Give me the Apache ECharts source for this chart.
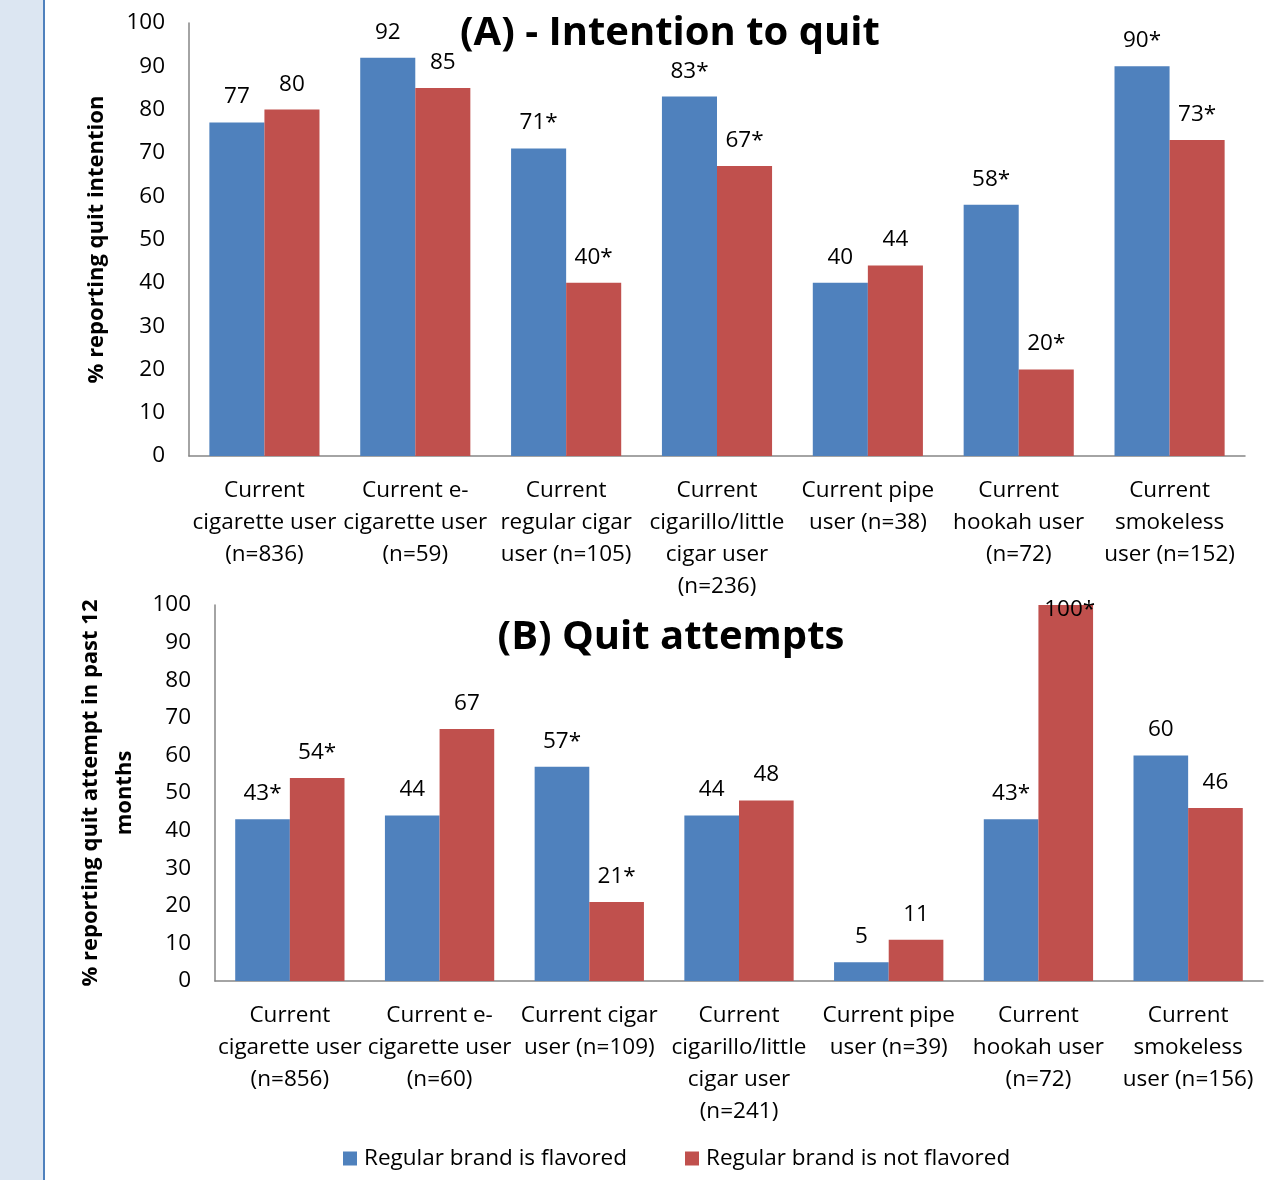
<!DOCTYPE html>
<html><head><meta charset="utf-8">
<script src="https://cdn.jsdelivr.net/npm/echarts@6/dist/echarts.min.js"></script>
<style>html,body{margin:0;padding:0;background:#fff}#c{width:1275px;height:1180px}</style>
</head><body><div id="c"></div>
<script>
const seriesNames = ['Regular brand is flavored', 'Regular brand is not flavored'];
const categoriesA = ['Current\ncigarette user\n(n=836)', 'Current e-\ncigarette user\n(n=59)', 'Current\nregular cigar\nuser (n=105)', 'Current\ncigarillo/little\ncigar user\n(n=236)', 'Current pipe\nuser (n=38)', 'Current\nhookah user\n(n=72)', 'Current\nsmokeless\nuser (n=152)'];
const flavoredA = [77, 92, 71, 83, 40, 58, 90];
const notFlavoredA = [80, 85, 40, 67, 44, 20, 73];
const flavoredALabels = ['77', '92', '71*', '83*', '40', '58*', '90*'];
const notFlavoredALabels = ['80', '85', '40*', '67*', '44', '20*', '73*'];
const categoriesB = ['Current\ncigarette user\n(n=856)', 'Current e-\ncigarette user\n(n=60)', 'Current cigar\nuser (n=109)', 'Current\ncigarillo/little\ncigar user\n(n=241)', 'Current pipe\nuser (n=39)', 'Current\nhookah user\n(n=72)', 'Current\nsmokeless\nuser (n=156)'];
const flavoredB = [43, 44, 57, 44, 5, 43, 60];
const notFlavoredB = [54, 67, 21, 48, 11, 100, 46];
const flavoredBLabels = ['43*', '44', '57*', '44', '5', '43*', '60'];
const notFlavoredBLabels = ['54*', '67', '21*', '48', '11', '100*', '46'];
const yTicks = [0, 10, 20, 30, 40, 50, 60, 70, 80, 90, 100];

const FONT = 'Open Sans';
const FS = 22.5;
const BLUE = '#4f81bd', RED = '#c0504d';

function mkData(vals, labels) {
  return vals.map((v, i) => {
    const d = { value: v, label: { formatter: labels[i] } };
    if (v >= 100) d.label = { formatter: labels[i], position: 'insideTop', distance: 0, offset: [4, -7] };
    return d;
  });
}
const labelStyle = { show: true, position: 'top', distance: 14, color: '#000', fontFamily: FONT, fontSize: FS };
function xAx(idx, cats) {
  return {
    type: 'category', gridIndex: idx, data: cats,
    axisLine: { lineStyle: { color: '#868686', width: 1.5 } },
    axisTick: { show: false },
    axisLabel: { color: '#000', fontFamily: FONT, fontSize: FS, lineHeight: 32, margin: 19, interval: 0 }
  };
}
function yAx(idx, name, gap) {
  return {
    type: 'value', gridIndex: idx, min: yTicks[0], max: yTicks[yTicks.length - 1], interval: 10,
    name: name, nameLocation: 'middle', nameGap: gap,
    nameTextStyle: { color: '#000', fontFamily: FONT, fontSize: 22, fontWeight: 'bold', lineHeight: 34 },
    axisLine: { show: true, lineStyle: { color: '#868686', width: 1.5 } },
    axisTick: { show: false },
    splitLine: { show: false },
    axisLabel: { color: '#000', fontFamily: FONT, fontSize: FS, margin: 24 }
  };
}
const chart = echarts.init(document.getElementById('c'), null, { renderer: 'canvas' });
chart.setOption({
  backgroundColor: '#fff',
  animation: false,
  textStyle: { fontFamily: FONT },
  graphic: [
    { type: 'rect', shape: { x: 0, y: 0, width: 43, height: 1180 }, style: { fill: '#dce6f2' } },
    { type: 'rect', shape: { x: 43, y: 0, width: 2, height: 1180 }, style: { fill: '#4f81bd' } }
  ],
  title: [
    { text: '(A) - Intention to quit', left: 665, top: 9, textAlign: 'center', textStyle: { fontFamily: FONT, fontSize: 40, fontWeight: 'bold', color: '#000' } },
    { text: '(B) Quit attempts', left: 666, top: 613, textAlign: 'center', textStyle: { fontFamily: FONT, fontSize: 40, fontWeight: 'bold', color: '#000' } }
  ],
  legend: {
    data: seriesNames, bottom: 5, left: 338, itemWidth: 14, itemHeight: 14, itemGap: 58,
    icon: 'rect',
    textStyle: { fontFamily: FONT, fontSize: FS, color: '#000', padding: [0, 0, 0, 2] }
  },
  grid: [
    { left: 189, right: 30, top: 23, height: 433 },
    { left: 215, right: 12, top: 605, height: 376 }
  ],
  xAxis: [xAx(0, categoriesA), xAx(1, categoriesB)],
  yAxis: [yAx(0, '% reporting quit intention', 75), yAx(1, '% reporting quit attempt in past 12\nmonths', 69)],
  series: [
    { name: seriesNames[0], type: 'bar', xAxisIndex: 0, yAxisIndex: 0, data: mkData(flavoredA, flavoredALabels), itemStyle: { color: BLUE }, barGap: '0%', barCategoryGap: '27%', label: labelStyle },
    { name: seriesNames[1], type: 'bar', xAxisIndex: 0, yAxisIndex: 0, data: mkData(notFlavoredA, notFlavoredALabels), itemStyle: { color: RED }, barGap: '0%', barCategoryGap: '27%', label: labelStyle },
    { name: seriesNames[0], type: 'bar', xAxisIndex: 1, yAxisIndex: 1, data: mkData(flavoredB, flavoredBLabels), itemStyle: { color: BLUE }, barGap: '0%', barCategoryGap: '27%', label: labelStyle },
    { name: seriesNames[1], type: 'bar', xAxisIndex: 1, yAxisIndex: 1, data: mkData(notFlavoredB, notFlavoredBLabels), itemStyle: { color: RED }, barGap: '0%', barCategoryGap: '27%', label: labelStyle }
  ]
});
</script></body></html>
